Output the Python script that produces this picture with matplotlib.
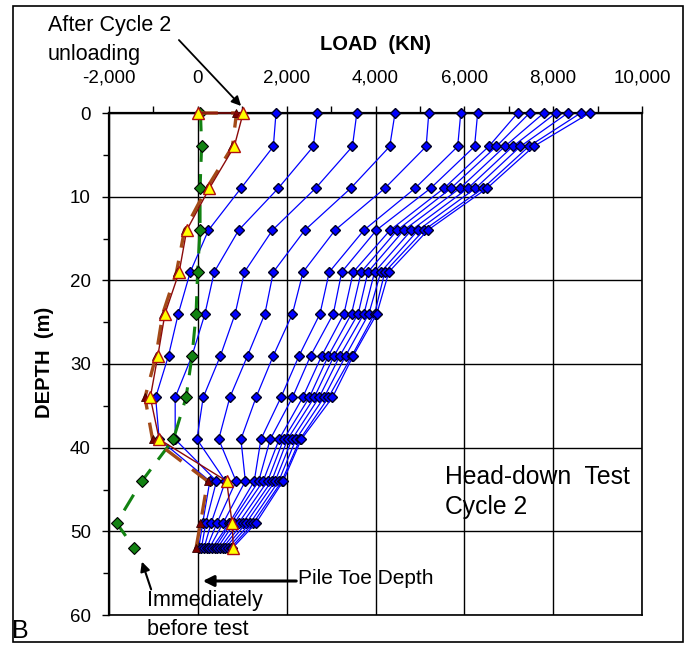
import numpy as np
import matplotlib.pyplot as plt
from matplotlib.patches import Rectangle

plt.rcParams['font.family'] = ['Liberation Sans', 'DejaVu Sans']

# gauge depths (m)
depth = [0, 4, 9, 14, 19, 24, 29, 34, 39, 44, 49, 52]

# load distribution per load step (kN), one list per depth, 14 steps
load_steps = [
    [1760, 2690, 3580, 4440, 5200, 5920, 6300, 7200, 7470, 7790, 8060, 8330, 8620, 8820],
    [1700, 2600, 3480, 4320, 5140, 5850, 6230, 6550, 6720, 6910, 7090, 7260, 7450, 7560],
    [970, 1810, 2650, 3440, 4210, 4890, 5240, 5540, 5700, 5900, 6080, 6250, 6420, 6510],
    [240, 920, 1680, 2410, 3090, 3740, 4020, 4330, 4490, 4640, 4810, 4960, 5090, 5180],
    [-170, 370, 1050, 1700, 2370, 2960, 3240, 3500, 3680, 3830, 3980, 4120, 4210, 4300],
    [-440, 160, 840, 1510, 2130, 2750, 3050, 3290, 3460, 3610, 3740, 3850, 3980, 4030],
    [-660, -130, 510, 1120, 1700, 2280, 2540, 2790, 2940, 3070, 3200, 3330, 3470, 3500],
    [-950, -510, 120, 720, 1310, 1870, 2130, 2360, 2510, 2620, 2730, 2840, 2940, 3030],
    [-870, -510, -20, 470, 970, 1420, 1630, 1830, 1930, 2020, 2120, 2210, 2300, 2330],
    [270, 420, 620, 860, 1070, 1270, 1370, 1470, 1570, 1660, 1740, 1820, 1890, 1920],
    [110, 180, 300, 430, 570, 710, 750, 820, 920, 1010, 1090, 1180, 1250, 1310],
    [20, 80, 140, 200, 260, 320, 380, 440, 500, 560, 620, 680, 740, 780],
]

# residual profiles (first point is the head at zero load)
tri_depth = [0, 0, 4, 9, 14, 19, 24, 29, 34, 39, 44, 49, 52]
after_unload = [0, 1020, 820, 260, -250, -420, -740, -900, -1070, -870, 650, 770, 800]
after_unload_b = [0, 870, 780, 200, -300, -480, -790, -940, -1190, -1020, 220, 60, -40]

before_test = [60, 85, 50, 50, -5, -40, -130, -265, -550, -1260, -1830, -1430]

fig = plt.figure(figsize=(6.9, 6.46), dpi=100)
W, H = 690, 646


def fp(x, y):
    return (x / W, 1 - y / H)


ax = fig.add_axes([109 / W, 1 - 615 / H, (642 - 109) / W, (615 - 113) / H])

arr = np.array(load_steps)
for k in range(arr.shape[1]):
    ax.plot(arr[:, k], depth, color='#0000ff', lw=0.9, marker='D', ms=5,
            mfc='#0000ff', mec='#000022', mew=1.0, zorder=3, clip_on=False)

ax.plot(before_test, depth, color='#128212', lw=2.2, dashes=(6, 4),
        marker='D', ms=6.5, mfc='#128212', mec='black', mew=0.8, zorder=4,
        clip_on=False)
ax.plot(after_unload_b, tri_depth, color='#a34a18', lw=2.4, dashes=(6, 4),
        marker='^', ms=6, mfc='#7a0000', mec='#3a0000', mew=0.6, zorder=5,
        clip_on=False)
ax.plot(after_unload, tri_depth, color='#8b0a0a', lw=1.0,
        marker='^', ms=9, mfc='#ffff00', mec='#b01010', mew=1.0, zorder=6,
        clip_on=False)

ax.set_xlim(-2000, 10000)
ax.set_ylim(60, 0)
ax.xaxis.tick_top()
ax.set_xticks(np.arange(-2000, 10001, 2000))
ax.set_xticks(np.arange(-2000, 10001, 1000), minor=True)
ax.set_xticklabels(['-2,000', '0', '2,000', '4,000', '6,000', '8,000', '10,000'])
ax.set_yticks(np.arange(0, 61, 10))
ax.set_yticks(np.arange(0, 61, 5), minor=True)
ax.tick_params(axis='x', which='major', direction='out', length=5, width=1,
               pad=14, labelsize=13.5, colors='black')
ax.tick_params(axis='x', which='minor', direction='out', length=5, width=1)
ax.tick_params(axis='y', which='major', direction='out', length=5, width=1,
               pad=8, labelsize=13.5)
ax.tick_params(axis='y', which='minor', direction='out', length=4, width=1)
ax.grid(True, which='major', color='black', lw=1)
ax.set_axisbelow(True)
for s in ax.spines.values():
    s.set_color('black')
    s.set_linewidth(1.2)
ax.spines['left'].set_linewidth(1.6)
ax.spines['top'].set_linewidth(1.6)

fig.text(*fp(375, 45), 'LOAD  (KN)', fontsize=14.5, fontweight='bold',
         ha='center', va='center')
fig.text(*fp(44, 362), 'DEPTH  (m)', fontsize=14.5, fontweight='bold',
         ha='center', va='center', rotation=90)

fig.text(*fp(48, 40), 'After Cycle 2\nunloading', fontsize=15.5, ha='left',
         va='center', linespacing=1.45)
ax.annotate('', xy=fp(243, 108), xycoords='figure fraction',
            xytext=fp(177, 38), textcoords='figure fraction',
            arrowprops=dict(arrowstyle='-|>', color='black', lw=1.3,
                            mutation_scale=14))

fig.text(*fp(445, 492), 'Head-down  Test\nCycle 2', fontsize=17.8, ha='left',
         va='center', linespacing=1.3)

fig.text(*fp(298, 579), 'Pile Toe Depth', fontsize=15, ha='left', va='center')
ax.annotate('', xy=fp(200, 581), xycoords='figure fraction',
            xytext=fp(299, 581), textcoords='figure fraction',
            arrowprops=dict(arrowstyle='-|>', color='black', lw=2.2,
                            mutation_scale=16))

fig.text(*fp(147, 615), 'Immediately\nbefore test', fontsize=15.5, ha='left',
         va='center', linespacing=1.5)
ax.annotate('', xy=fp(141, 559), xycoords='figure fraction',
            xytext=fp(152, 592), textcoords='figure fraction',
            arrowprops=dict(arrowstyle='-|>', color='black', lw=1.5,
                            mutation_scale=14))

fig.text(*fp(20, 631), 'B', fontsize=18, ha='center', va='center')

fig.patches.append(Rectangle(fp(13, 642), (683 - 13) / W, (642 - 6) / H,
                             transform=fig.transFigure, fill=False,
                             edgecolor='black', lw=1.2))

fig.savefig('out.png', dpi=100)
